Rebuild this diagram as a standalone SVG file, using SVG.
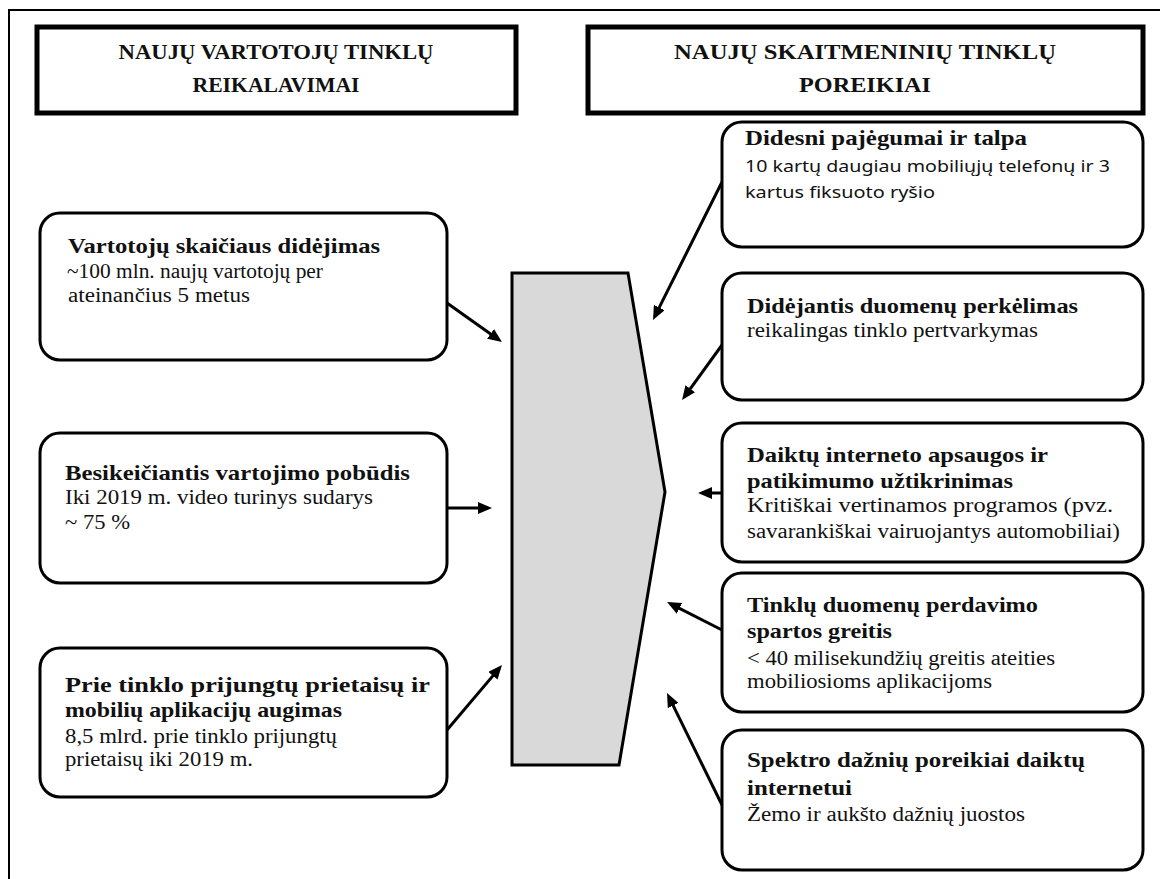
<svg xmlns="http://www.w3.org/2000/svg" width="1160" height="879" viewBox="0 0 1160 879">
<style>
.frame{fill:none;stroke:#000;stroke-width:2}
.hdr{fill:#fff;stroke:#000;stroke-width:5}
.box{fill:#fff;stroke:#000;stroke-width:3}
.hdrt{font-family:"Liberation Serif",serif;font-weight:bold;font-size:22px;fill:#111;text-anchor:middle}
.tt{font-family:"Liberation Serif",serif;font-weight:bold;font-size:21px;fill:#111}
.bt{font-family:"Liberation Serif",serif;font-size:20px;fill:#111}
.st{font-family:"Noto Sans","Liberation Sans",sans-serif;font-size:17px;fill:#111}
.arr{fill:none;stroke:#000;stroke-width:3;marker-end:url(#ah)}
.center{fill:#d9d9d9;stroke:#000;stroke-width:3;stroke-linejoin:miter}
</style>
<defs>
<marker id="ah" viewBox="0 0 14 12" refX="10" refY="6" markerWidth="14" markerHeight="12" markerUnits="userSpaceOnUse" orient="auto">
<path d="M0,0 L14,6 L0,12 z" fill="#000"/>
</marker>
</defs>
<rect width="1160" height="879" fill="#fff"/>
<path class="frame" d="M9,879 L9,10 L1160,10"/>

<g id="header-left">
<rect class="hdr" x="37" y="27" width="479" height="86"/>
<text class="hdrt" x="276" y="59" textLength="315" lengthAdjust="spacingAndGlyphs">NAUJŲ VARTOTOJŲ  TINKLŲ</text>
<text class="hdrt" x="276" y="92" textLength="167" lengthAdjust="spacingAndGlyphs">REIKALAVIMAI</text>
</g>
<g id="header-right">
<rect class="hdr" x="588" y="27" width="555" height="86"/>
<text class="hdrt" x="865" y="59" textLength="382" lengthAdjust="spacingAndGlyphs">NAUJŲ SKAITMENINIŲ  TINKLŲ</text>
<text class="hdrt" x="865" y="92" textLength="132" lengthAdjust="spacingAndGlyphs">POREIKIAI</text>
</g>

<g id="center">
<polygon class="center" points="512,273 628,273 665,492 619,765 512,765"/>
</g>

<g id="left1">
<rect class="box" x="40" y="213" width="407" height="147" rx="20"/>
<text class="tt" x="68" y="253" textLength="312" lengthAdjust="spacingAndGlyphs">Vartotojų skaičiaus didėjimas</text>
<text class="bt" x="67" y="278" textLength="256" lengthAdjust="spacingAndGlyphs">~100 mln. naujų vartotojų per</text>
<text class="bt" x="68" y="302" textLength="182" lengthAdjust="spacingAndGlyphs">ateinančius 5 metus</text>
</g>
<g id="left2">
<rect class="box" x="40" y="433" width="407" height="150" rx="20"/>
<text class="tt" x="65" y="480" textLength="345" lengthAdjust="spacingAndGlyphs">Besikeičiantis vartojimo pobūdis</text>
<text class="bt" x="65" y="504" textLength="308" lengthAdjust="spacingAndGlyphs">Iki 2019 m. video turinys sudarys</text>
<text class="bt" x="65" y="529" textLength="65" lengthAdjust="spacingAndGlyphs">~ 75 %</text>
</g>
<g id="left3">
<rect class="box" x="40" y="648" width="407" height="149" rx="20"/>
<text class="tt" x="65" y="692" textLength="365" lengthAdjust="spacingAndGlyphs">Prie tinklo prijungtų prietaisų ir</text>
<text class="tt" x="65" y="717" textLength="277" lengthAdjust="spacingAndGlyphs">mobilių aplikacijų augimas</text>
<text class="bt" x="65" y="743" textLength="272" lengthAdjust="spacingAndGlyphs">8,5 mlrd. prie tinklo prijungtų</text>
<text class="bt" x="65" y="766" textLength="188" lengthAdjust="spacingAndGlyphs">prietaisų iki 2019 m.</text>
</g>

<g id="right1">
<rect class="box" x="722" y="122" width="421" height="125" rx="20"/>
<text class="tt" x="745" y="145" textLength="282" lengthAdjust="spacingAndGlyphs">Didesni pajėgumai ir talpa</text>
<text class="st" x="745" y="172" textLength="365" lengthAdjust="spacingAndGlyphs">10 kartų daugiau mobiliųjų telefonų ir 3</text>
<text class="st" x="745" y="198" textLength="190" lengthAdjust="spacingAndGlyphs">kartus fiksuoto ryšio</text>
</g>
<g id="right2">
<rect class="box" x="722" y="273" width="421" height="127" rx="20"/>
<text class="tt" x="747" y="313" textLength="331" lengthAdjust="spacingAndGlyphs">Didėjantis duomenų perkėlimas</text>
<text class="bt" x="747" y="337" textLength="291" lengthAdjust="spacingAndGlyphs">reikalingas tinklo pertvarkymas</text>
</g>
<g id="right3">
<rect class="box" x="722" y="423" width="421" height="139" rx="20"/>
<text class="tt" x="747" y="462" textLength="301" lengthAdjust="spacingAndGlyphs">Daiktų interneto apsaugos ir</text>
<text class="tt" x="747" y="488" textLength="266" lengthAdjust="spacingAndGlyphs">patikimumo užtikrinimas</text>
<text class="bt" x="747" y="512" textLength="366" lengthAdjust="spacingAndGlyphs">Kritiškai vertinamos programos (pvz.</text>
<text class="bt" x="747" y="538" textLength="373" lengthAdjust="spacingAndGlyphs">savarankiškai vairuojantys automobiliai)</text>
</g>
<g id="right4">
<rect class="box" x="722" y="573" width="421" height="139" rx="20"/>
<text class="tt" x="747" y="612" textLength="291" lengthAdjust="spacingAndGlyphs">Tinklų duomenų perdavimo</text>
<text class="tt" x="747" y="638" textLength="145" lengthAdjust="spacingAndGlyphs">spartos greitis</text>
<text class="bt" x="747" y="665" textLength="308" lengthAdjust="spacingAndGlyphs">&lt; 40 milisekundžių greitis ateities</text>
<text class="bt" x="747" y="688" textLength="245" lengthAdjust="spacingAndGlyphs">mobiliosioms aplikacijoms</text>
</g>
<g id="right5">
<rect class="box" x="722" y="730" width="421" height="140" rx="20"/>
<text class="tt" x="747" y="767" textLength="338" lengthAdjust="spacingAndGlyphs">Spektro dažnių poreikiai daiktų</text>
<text class="tt" x="747" y="795" textLength="105" lengthAdjust="spacingAndGlyphs">internetui</text>
<text class="bt" x="747" y="821" textLength="278" lengthAdjust="spacingAndGlyphs">Žemo ir aukšto dažnių juostos</text>
</g>

<g id="connectors">
<line class="arr" x1="447" y1="303" x2="498.7" y2="339.7"/>
<line class="arr" x1="447" y1="508" x2="488" y2="508"/>
<line class="arr" x1="447" y1="730" x2="499.4" y2="668.1"/>
<line class="arr" x1="722" y1="182" x2="654.8" y2="316.4"/>
<line class="arr" x1="722" y1="345" x2="684.4" y2="396.8"/>
<line class="arr" x1="722" y1="493" x2="702" y2="493"/>
<line class="arr" x1="722" y1="630" x2="670.6" y2="603.8"/>
<line class="arr" x1="722" y1="805" x2="668.8" y2="696.6"/>
</g>
</svg>
